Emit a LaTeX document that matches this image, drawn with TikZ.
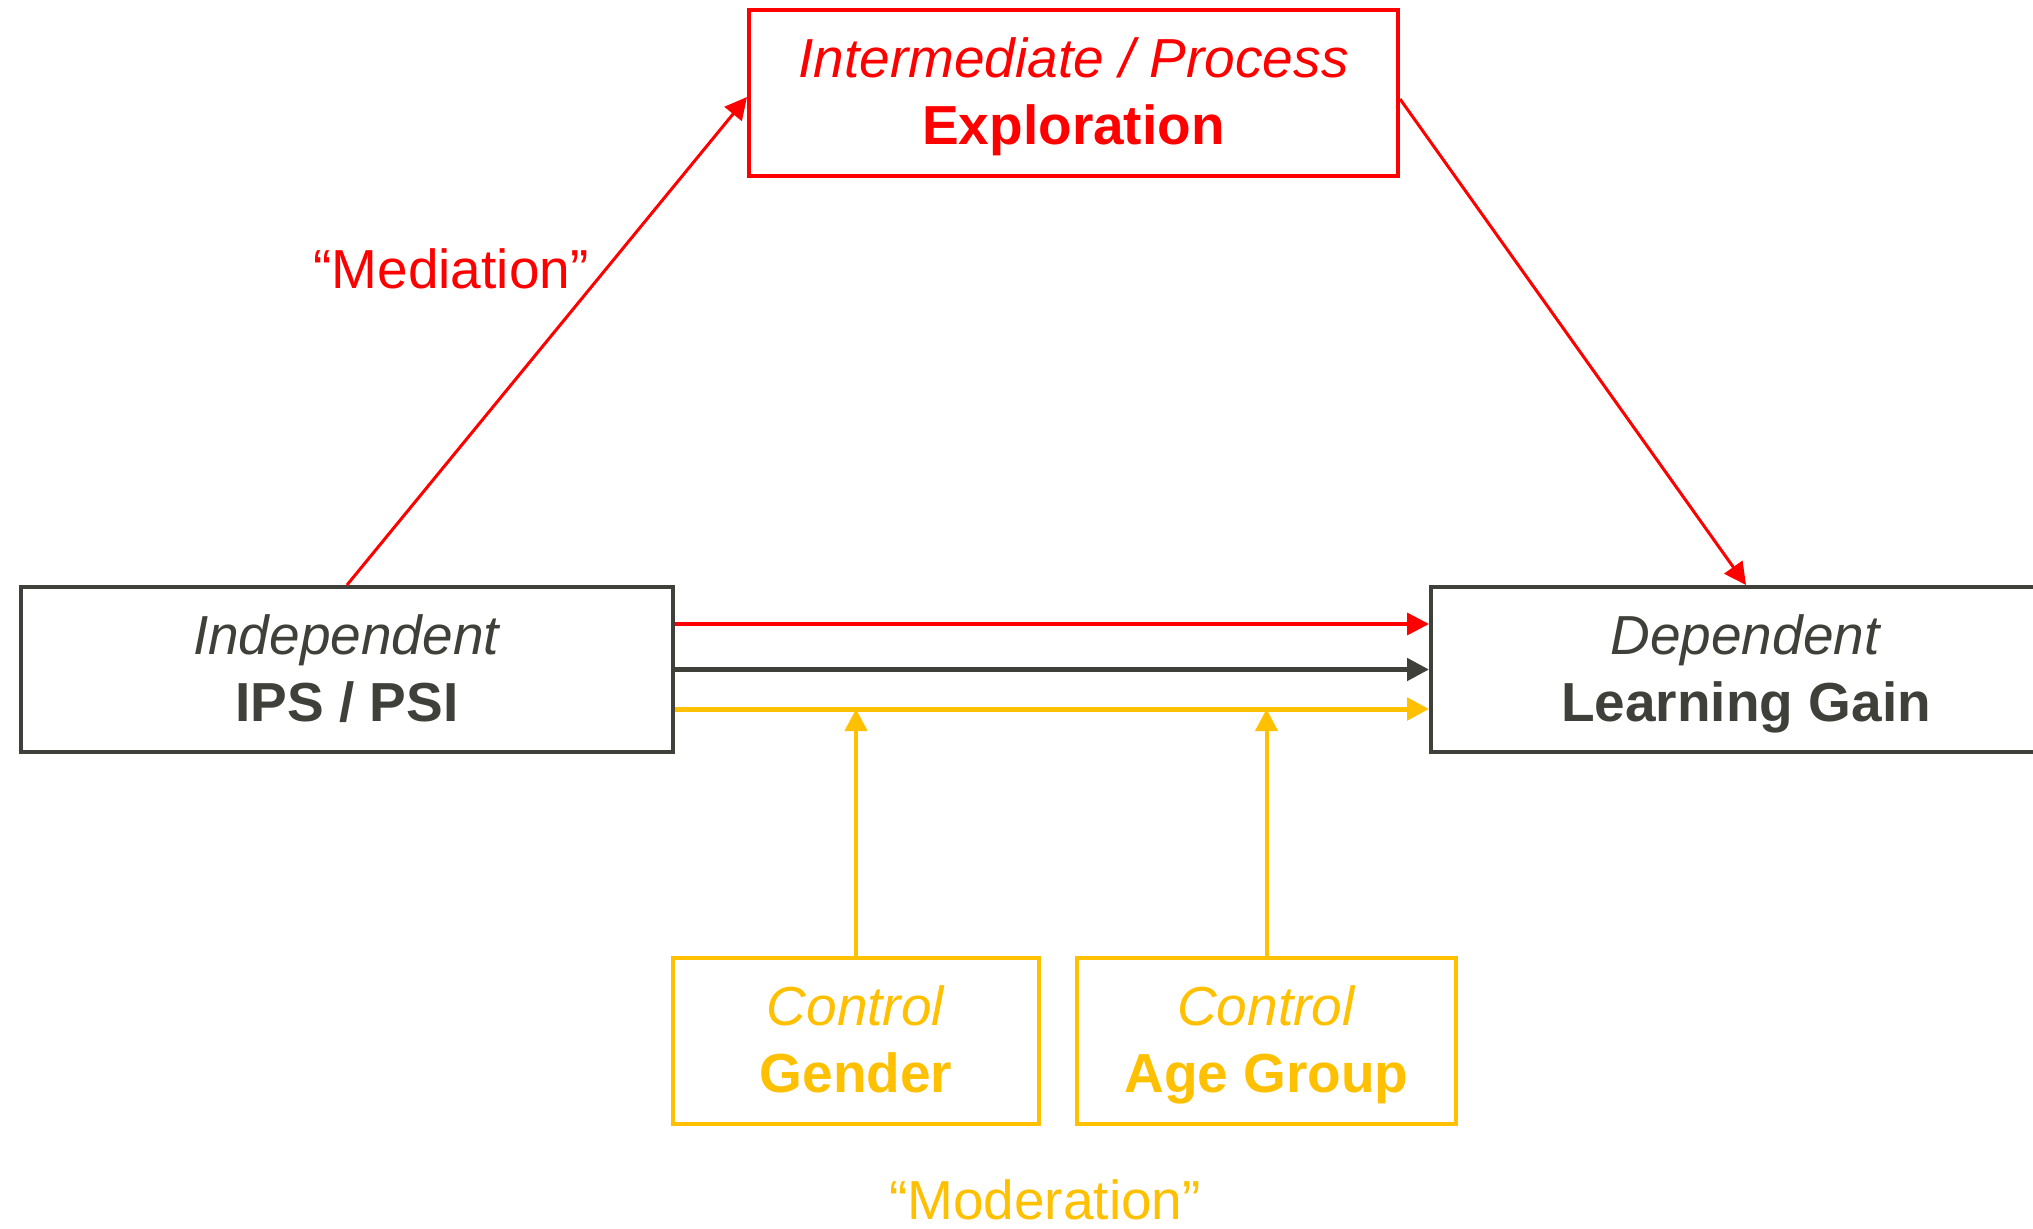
\documentclass[tikz,border=0pt]{standalone}
\usepackage{fontspec}
\setmainfont{Liberation Sans}
\usetikzlibrary{arrows.meta}

\definecolor{mred}{RGB}{255,0,0}
\definecolor{mdark}{RGB}{64,64,58}
\definecolor{myellow}{RGB}{255,192,0}

% two-line box label: italic role above, bold variable name below
\newcommand{\varlabel}[2]{\rule{0pt}{57pt}\textit{#1}\\\strut\textbf{#2}}

\tikzset{
  varbox/.style={draw, line width=4pt, fill=white, align=center, inner sep=0pt,
    font=\fontsize{55}{67}\selectfont, minimum height=165pt},
  link/.style={line width=3.5pt, -{Triangle[length=22pt,width=22pt]}},
  lbl/.style={font=\fontsize{55}{67}\selectfont, anchor=base}
}

\begin{document}
\begin{tikzpicture}[x=1pt,y=-1pt]
  \clip (0,0) rectangle (2033,1228);
  \fill[white] (0,0) rectangle (2033,1228);

  % variable boxes
  \node[varbox, draw=mred, text=mred, minimum width=649pt] (exp) at (1073.5,93)
    {\varlabel{Intermediate / Process}{Exploration}};
  \node[varbox, draw=mdark, text=mdark, minimum width=652pt] (ind) at (347,669.5)
    {\varlabel{Independent}{IPS / PSI}};
  \node[varbox, draw=mdark, text=mdark, minimum width=630pt] (dep) at (1746,669.5)
    {\varlabel{Dependent}{Learning Gain}};
  \node[varbox, draw=myellow, text=myellow, minimum width=366pt, minimum height=166pt] (gen) at (856,1041)
    {\varlabel{Control}{Gender}};
  \node[varbox, draw=myellow, text=myellow, minimum width=379pt, minimum height=166pt] (age) at (1266.5,1041)
    {\varlabel{Control}{Age Group}};

  % labels
  \node[lbl, text=mred] (med) at (451,288) {“Mediation”};
  \node[lbl, text=myellow] (mod) at (1045,1219) {“Moderation”};

  % mediation path
  \draw[link, mred, line width=3pt] (ind.north) -- ([yshift=-4pt]exp.west);
  \draw[link, mred, line width=3pt] ([yshift=-6pt]exp.east) -- (dep.north);

  % direct paths
  \coordinate (rs) at ([yshift=45.5pt]ind.east);
  \coordinate (ds) at (ind.east);
  \coordinate (ys) at ([yshift=-39.5pt]ind.east);
  \draw[link, mred] (rs) -- (rs -| dep.west);
  \draw[link, mdark, line width=5pt] (ds) -- (dep.west);
  \draw[link, myellow, line width=5pt] (ys) -- (ys -| dep.west);

  % moderators acting on the direct path
  \draw[link, myellow, line width=4pt] (gen.north) -- (gen.north |- ys);
  \draw[link, myellow, line width=4pt] (age.north) -- (age.north |- ys);
\end{tikzpicture}
\end{document}
